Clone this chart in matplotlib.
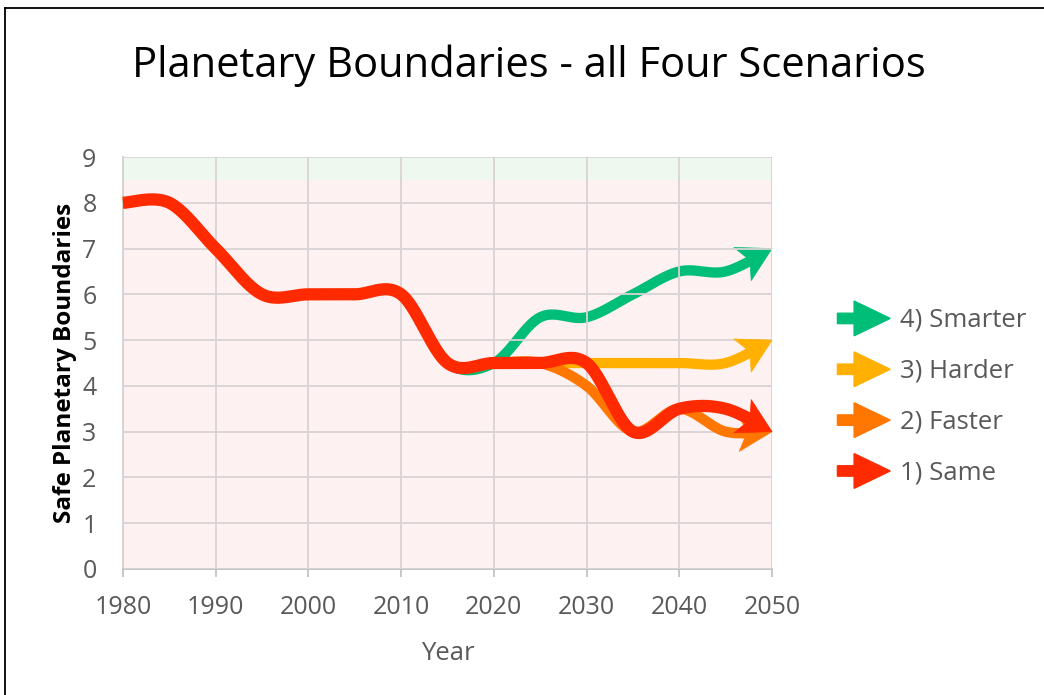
import numpy as np
import matplotlib
matplotlib.use("Agg")
import matplotlib.pyplot as plt
import matplotlib.patches as mpatches
import matplotlib.transforms as mtransforms
from matplotlib.legend_handler import HandlerPatch

plt.rcParams['font.family'] = ['Open Sans', 'DejaVu Sans']

# data (5-year points, smoothed like Excel)
years = [1980, 1985, 1990, 1995, 2000, 2005, 2010, 2015,
         2020, 2025, 2030, 2035, 2040, 2045, 2050]
same = [8, 8, 7, 6, 6, 6, 6, 4.5, 4.5, 4.5, 4.5, 3, 3.5, 3.5, 3]
faster = [8, 8, 7, 6, 6, 6, 6, 4.5, 4.5, 4.5, 4, 3, 3.5, 3, 3]
harder = [8, 8, 7, 6, 6, 6, 6, 4.5, 4.5, 4.5, 4.5, 4.5, 4.5, 4.5, 5]
smarter = [8, 8, 7, 6, 6, 6, 6, 4.5, 4.5, 5.5, 5.5, 6, 6.5, 6.5, 7]
safe_limit = 8.5
y_max = 9

labels = ["4) Smarter", "3) Harder", "2) Faster", "1) Same"]
colors = ["#00BE78", "#FFB000", "#FF7700", "#FF2A00"]
series = [smarter, harder, faster, same]
widths = [7.4, 7.4, 7.4, 8.8]

GRAY = "#595959"


def smooth(xs, ys, n=40):
    # catmull-rom style bezier, same idea as Excel's smoothed line
    p = np.column_stack([xs, ys]).astype(float)
    p = np.vstack([p[0], p, p[-1]])
    out = []
    for i in range(1, len(p) - 2):
        p0, p1, p2, p3 = p[i - 1], p[i], p[i + 1], p[i + 2]
        c1 = p1 + (p2 - p0) / 6.0
        c2 = p2 - (p3 - p1) / 6.0
        t = np.linspace(0, 1, n, endpoint=(i == len(p) - 3))[:, None]
        b = ((1 - t) ** 3) * p1 + 3 * ((1 - t) ** 2) * t * c1 + 3 * (1 - t) * t ** 2 * c2 + t ** 3 * p2
        out.append(b)
    out = np.vstack(out)
    return out[:, 0], out[:, 1]


fig = plt.figure(figsize=(10.44, 6.95), dpi=100)
ax = fig.add_axes([0.1178, 0.1813, 0.6217, 0.5928])

ax.set_xlim(years[0], years[-1])
ax.set_ylim(0, y_max)

ax.axhspan(0, safe_limit, color="#FDF1F1", zorder=0, lw=0)
ax.axhspan(safe_limit, y_max, color="#EEF8EF", zorder=0, lw=0)

ax.grid(True, color="#D9D3D5", lw=1.3, zorder=0.5)
ax.set_axisbelow(False)
for gl in ax.get_xgridlines() + ax.get_ygridlines():
    gl.set_zorder(0.5)

head_len, head_w, notch = 24, 27, 6
for k, (vals, c, lw) in enumerate(zip(series, colors, widths)):
    xs, ys = smooth(years, vals)
    pts = ax.transData.transform(np.column_stack([xs, ys]))
    end = pts[-1]
    dist = np.hypot(*(pts - end).T)
    keep = dist >= (head_len - notch - 1) * fig.dpi / 72
    ax.plot(xs[keep], ys[keep], color=c, lw=lw, solid_capstyle="butt",
            solid_joinstyle="round", zorder=2 + k, clip_on=False)
    d = end - pts[-4]
    ang = np.arctan2(d[1], d[0])
    verts = [(0, 0), (-head_len, head_w / 2), (-head_len + notch, 0), (-head_len, -head_w / 2)]
    tr = (mtransforms.Affine2D().rotate(ang).scale(fig.dpi / 72)
          + mtransforms.ScaledTranslation(xs[-1], ys[-1], ax.transData))
    ax.add_patch(mpatches.Polygon(verts, closed=True, transform=tr, facecolor=c,
                                  edgecolor=c, lw=0.5, zorder=2 + k, clip_on=False))

ax.set_xticks(range(1980, 2051, 10))
ax.set_yticks(range(0, 10))
ax.tick_params(axis="x", length=6, width=1.2, color="#BFBFBF", pad=13,
               labelsize=18, labelcolor=GRAY)
ax.tick_params(axis="y", length=0, pad=19, labelsize=18, labelcolor=GRAY)
for s in ["top", "right"]:
    ax.spines[s].set_visible(False)
ax.spines["left"].set_color("#D0D0D0")
ax.spines["bottom"].set_color("#BFBFBF")
ax.spines["bottom"].set_linewidth(1.3)
ax.spines["left"].set_linewidth(1.3)

ax.set_xlabel("Year", fontsize=18.5, color=GRAY, labelpad=15)
ax.set_ylabel("Safe Planetary Boundaries", fontsize=17.5, fontweight="bold",
              color="black", labelpad=4)

fig.text(0.507, 0.905, "Planetary Boundaries - all Four Scenarios",
         fontsize=30, ha="center", va="center", color="black")


def legend_arrow(legend, orig_handle, xdescent, ydescent, width, height, fontsize):
    return mpatches.FancyArrow(-xdescent + 3, height / 2 - ydescent, width - 3, 0,
                               width=7.5, head_width=25, head_length=26,
                               length_includes_head=True, capstyle="round")


handles = [mpatches.Patch(color=c, label=l) for c, l in zip(colors, labels)]
fs = 18.5
ax.legend(handles=handles, loc="center left", bbox_to_anchor=(0.776, 0.432),
          bbox_transform=fig.transFigure, frameon=False, fontsize=fs,
          labelcolor=GRAY, handlelength=41 / fs, handleheight=25 / fs,
          handletextpad=7 / fs, labelspacing=0.85,
          handler_map={mpatches.Patch: HandlerPatch(patch_func=legend_arrow)})

# frame lines around the chart area (left and top only are visible)
fig.add_artist(plt.Line2D([5 / 1044, 5 / 1044], [0, 1 - 8 / 695], color="black",
                          lw=1.3, transform=fig.transFigure))
fig.add_artist(plt.Line2D([5 / 1044, 1], [1 - 8 / 695, 1 - 8 / 695], color="black",
                          lw=1.3, transform=fig.transFigure))

fig.savefig("out.png", dpi=100)
